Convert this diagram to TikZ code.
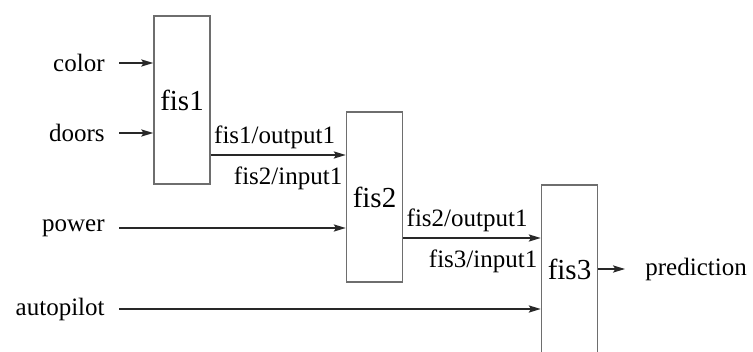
\documentclass[tikz,border=0pt]{standalone}
\usepackage{fontspec}
\setmainfont{Liberation Serif}
\usepackage{tikz}
\usetikzlibrary{arrows.meta,positioning,calc}
\definecolor{boxGray}{RGB}{110,110,110}
\definecolor{lineDark}{RGB}{40,40,40}

\begin{document}
\begin{tikzpicture}[x=0.5pt,y=-0.5pt,
    fisbox/.style={draw=boxGray,line width=0.8pt,minimum width=28pt,minimum height=84pt,inner sep=0pt,font=\fontsize{14.5}{16}\selectfont},
    lab/.style={inner sep=0pt,font=\fontsize{12.5}{14}\selectfont},
    conn/.style={draw=lineDark,line width=0.8pt,-{Stealth[length=6pt,width=3.6pt,inset=1.2pt]}}]
  \clip (0,0) rectangle (753,352);
  \node[fisbox] (fis1) at (182,100) {fis1};
  \node[fisbox,minimum height=85pt] (fis2) at (374.5,197) {fis2};
  \node[fisbox] (fis3) at (569.5,269) {fis3};
  % inputs on the left
  \foreach \nm/\y/\tgt in {color/63/fis1,doors/133/fis1,power/228/fis2,autopilot/309/fis3}{
    \node[lab,inner xsep=7pt,anchor=east] (\nm) at (119,\y) {\nm};
    \draw[conn] (\nm) -- (\nm -| \tgt.west);
  }
  % links between the systems
  \coordinate (o1) at (fis1.east |- 0,155);
  \coordinate (o2) at (fis2.east |- 0,238);
  \draw[conn] (o1) -- (o1 -| fis2.west);
  \draw[conn] (o2) -- (o2 -| fis3.west);
  \node[lab,anchor=south west] (out1) at ($(o1)+(3,-6)$) {fis1/output1};
  \node[lab,anchor=north east] (in1) at ($(o1 -| fis2.west)+(-3,11)$) {fis2/input1};
  \node[lab,anchor=south west] (out2) at ($(o2)+(3,-6)$) {fis2/output1};
  \node[lab,anchor=north east] (in2) at ($(o2 -| fis3.west)+(-3,11)$) {fis3/input1};
  % output
  \node[lab,inner xsep=10pt,anchor=west] (prediction) at (625,269) {prediction};
  \draw[conn] (fis3) -- (prediction);
\end{tikzpicture}
\end{document}
